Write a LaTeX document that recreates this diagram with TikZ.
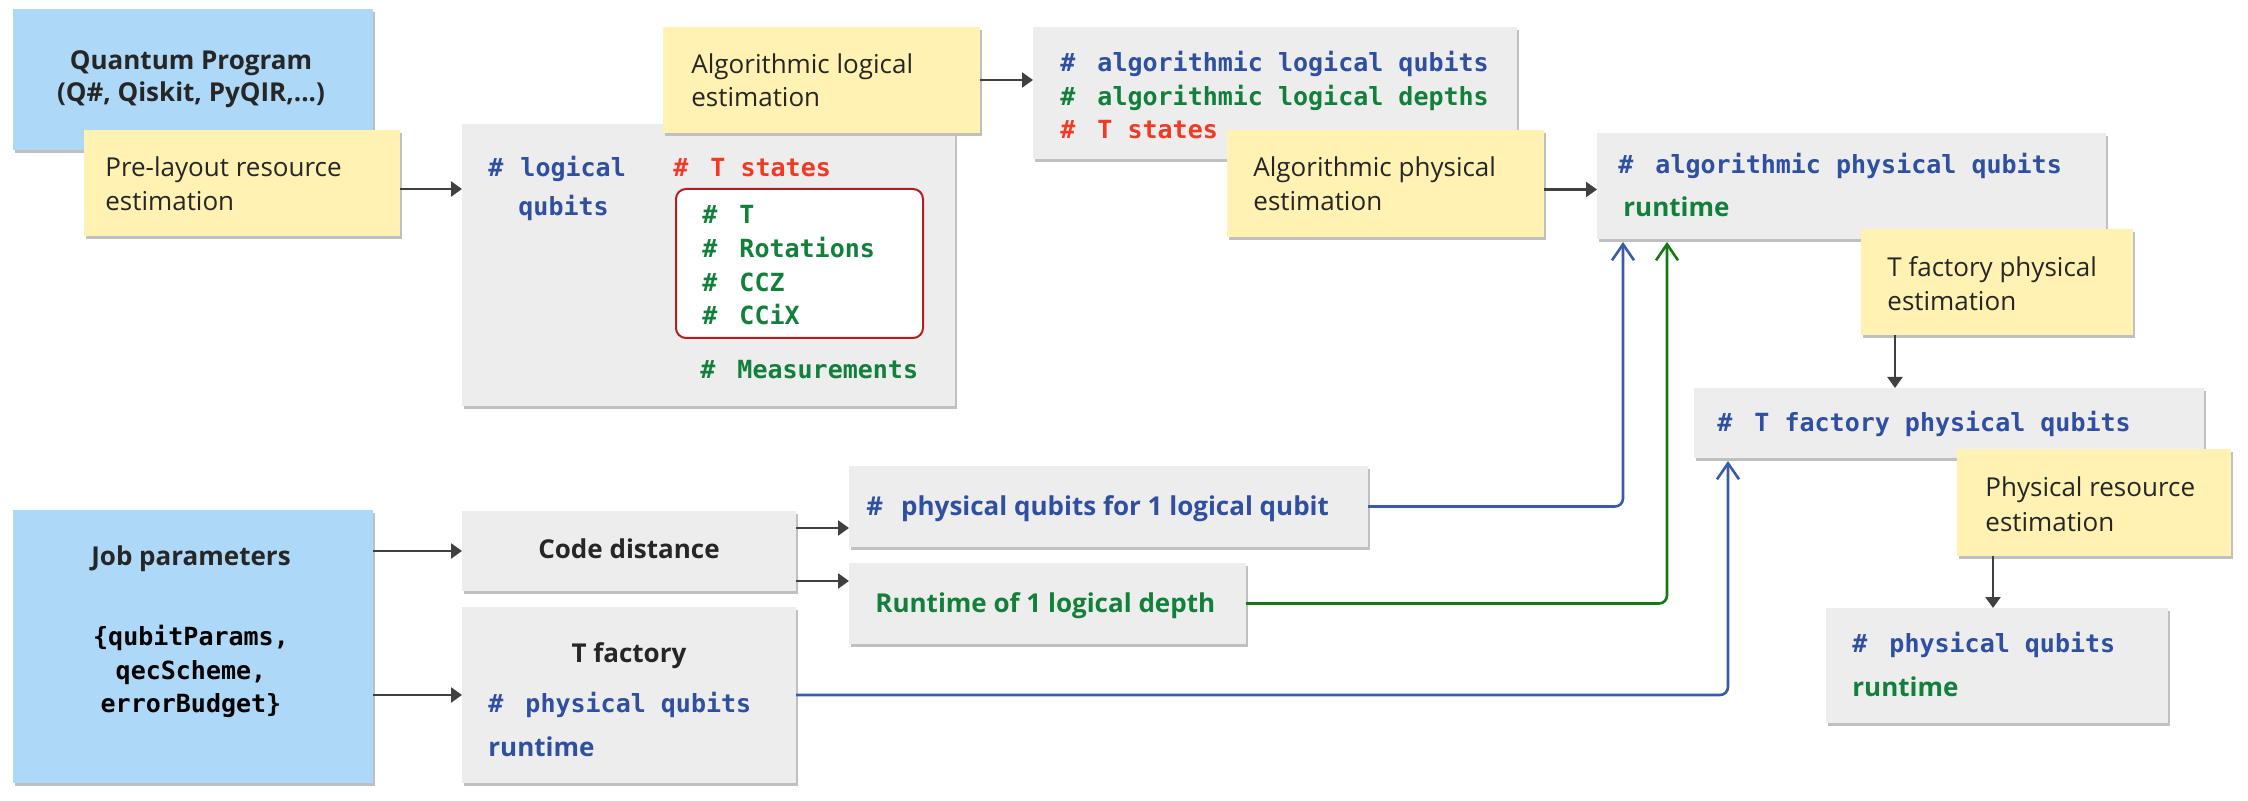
\documentclass[tikz,border=0pt]{standalone}
\usepackage{fontspec}
\setmainfont{Open Sans}
\newfontfamily\monof{DejaVu Sans Mono}
\usetikzlibrary{arrows.meta,shadows}
\definecolor{qblue}{RGB}{173,216,247}
\definecolor{qyellow}{RGB}{255,242,178}
\definecolor{qgray}{RGB}{237,237,237}
\definecolor{shadowc}{RGB}{192,192,192}
\definecolor{dtext}{RGB}{38,38,38}
\definecolor{tblue}{RGB}{47,80,160}
\definecolor{tgreen}{RGB}{18,128,58}
\definecolor{tred}{RGB}{240,58,38}
\definecolor{redbox}{RGB}{178,30,30}
\definecolor{lblue}{RGB}{60,90,170}
\definecolor{lgreen}{RGB}{20,120,20}
\definecolor{darrc}{RGB}{64,64,64}
\newcommand{\hsh}{\#\hspace{11pt}}
\newcommand{\mkbox}[6]{\node[#1, minimum width={(#5-#3)*0.5pt}, minimum height={(#6-#4)*0.5pt}] (#2) at (#3,#4) {};}
\tikzset{
  boxbase/.style={inner sep=0pt, outer sep=0pt, anchor=north west,
    drop shadow={shadow xshift=1.2pt, shadow yshift=-1.5pt, fill=shadowc, opacity=1}},
  bluebox/.style={boxbase, fill=qblue},
  graybox/.style={boxbase, fill=qgray},
  ybox/.style={boxbase, fill=qyellow},
  redlist/.style={inner sep=0pt, outer sep=0pt, anchor=north west, fill=white, draw=redbox, line width=1pt, rounded corners=5pt},
  yt/.style={anchor=base west, inner sep=0pt, text=dtext, font=\fontsize{13}{16}\selectfont},
  bt/.style={anchor=base, inner sep=0pt, text=dtext, font=\bfseries\fontsize{13}{16}\selectfont},
  st/.style={anchor=base west, inner sep=0pt, font=\bfseries\fontsize{13}{16}\selectfont},
  mt/.style={anchor=base west, inner sep=0pt, font=\monof\bfseries\fontsize{12.5}{16}\selectfont},
  mc/.style={mt, anchor=base, text=black},
  darr/.style={draw=darrc, line width=1.2pt, -{Triangle[length=5.5pt,width=7.5pt]}},
  bcon/.style={draw=lblue, line width=1.3pt, rounded corners=4pt, -{Straight Barb[length=8pt,width=11pt]}},
  gcon/.style={draw=lgreen, line width=1.3pt, rounded corners=4pt, -{Straight Barb[length=8pt,width=11pt]}}
}
\begin{document}
\begin{tikzpicture}[x=0.5pt,y=-0.5pt]
\useasboundingbox (0,0) rectangle (2248,801);
% blue and gray boxes
\mkbox{bluebox}{qprog}{13}{9}{373}{150}
\mkbox{bluebox}{job}{13}{510}{373}{783}
\mkbox{graybox}{logic}{462}{124}{955}{406}
\mkbox{graybox}{alq}{1033}{27}{1517}{159}
\mkbox{graybox}{apq}{1597}{133}{2106}{239}
\mkbox{graybox}{tfpq}{1694}{388}{2204}{458}
\mkbox{graybox}{pq}{1826}{608}{2168}{723}
\mkbox{graybox}{cd}{462}{511}{796}{591}
\mkbox{graybox}{tf}{462}{607}{796}{783}
\mkbox{graybox}{pqone}{849}{466}{1368}{547}
\mkbox{graybox}{rtone}{849}{563}{1246}{644}
\mkbox{redlist}{tlist}{676}{189}{923}{338}
% yellow boxes
\mkbox{ybox}{prel}{84}{130}{400}{236}
\mkbox{ybox}{alglog}{663}{27}{980}{133}
\mkbox{ybox}{algphys}{1227}{130}{1544}{237}
\mkbox{ybox}{tfpe}{1861}{229}{2133}{335}
\mkbox{ybox}{pre}{1957}{449}{2231}{556}
% texts
\node[bt] (qprogA) at (191,70) {Quantum Program};
\node[bt] (qprogB) at (191,102) {(Q\#, Qiskit, PyQIR,...)};
\node[yt] (prelA) at (105,177) {Pre-layout resource};
\node[yt] (prelB) at (105,211) {estimation};
\node[yt] (alglogA) at (691,74) {Algorithmic logical};
\node[yt] (alglogB) at (691,107) {estimation};
\node[yt] (algphysA) at (1253,177) {Algorithmic physical};
\node[yt] (algphysB) at (1253,211) {estimation};
\node[yt] (tfpeA) at (1887,277) {T factory physical};
\node[yt] (tfpeB) at (1887,311) {estimation};
\node[yt] (preA) at (1985,497) {Physical resource};
\node[yt] (preB) at (1985,531) {estimation};
\node[mt, text=tblue] (logA) at (488,177) {\#\hspace{8.5pt}logical};
\node[mt, text=tblue] (logB) at (518,216) {qubits};
\node[mt, text=tred] (tsA) at (673,177) {\hsh T states};
\node[mt, text=tgreen] (tsT) at (702,224) {\hsh T};
\node[mt, text=tgreen] (tsR) at (702,258) {\hsh Rotations};
\node[mt, text=tgreen] (tsC) at (702,292) {\hsh CCZ};
\node[mt, text=tgreen] (tsX) at (702,325) {\hsh CCiX};
\node[mt, text=tgreen] (tsM) at (700,379) {\hsh Measurements};
\node[mt, text=tblue] (alqA) at (1060,72) {\hsh algorithmic logical qubits};
\node[mt, text=tgreen] (alqB) at (1060,106) {\hsh algorithmic logical depths};
\node[mt, text=tred] (alqC) at (1060,139) {\hsh T states};
\node[mt, text=tblue] (apqA) at (1618,174) {\hsh algorithmic physical qubits};
\node[st, text=tgreen] (apqB) at (1623,217) {runtime};
\node[mt, text=tblue] (tfpqA) at (1717,432) {\hsh T factory physical qubits};
\node[mt, text=tblue] (pqA) at (1852,652) {\hsh physical qubits};
\node[st, text=tgreen] (pqB) at (1852,696) {runtime};
\node[bt] (jobA) at (191,566) {Job parameters};
\node[mc] (jobB) at (191,646) {\{qubitParams,};
\node[mc] (jobC) at (191,679) {qecScheme,};
\node[mc] (jobD) at (191,712) {errorBudget\}};
\node[bt] (cdA) at (629,559) {Code distance};
\node[bt] (tfA) at (629,662) {T factory};
\node[mt, text=tblue] (tfB) at (488,712) {\hsh physical qubits};
\node[st, text=tblue] (tfC) at (488,756) {runtime};
\node[st, text=tblue] (pqoneA) at (866,516) {\#\hspace{9pt}physical qubits for 1 logical qubit};
\node[st, text=tgreen] (rtoneA) at (875,612) {Runtime of 1 logical depth};
% dark arrows
\draw[darr] ([yshift=-3pt]prel.east) -- ([yshift=-3pt]prel.east -| logic.west);
\draw[darr] (alglog.east) -- (alglog.east -| alq.west);
\draw[darr] ([yshift=-3pt]algphys.east) -- ([yshift=-3pt]algphys.east -| apq.west);
\draw[darr] ([xshift=17pt]tfpe.south west) -- ([xshift=17pt]tfpe.south west |- tfpq.north);
\draw[darr] ([xshift=18pt]pre.south west) -- ([xshift=18pt]pre.south west |- pq.north);
\draw[darr] (cd.west -| job.east) -- (cd.west);
\draw[darr] (tf.west -| job.east) -- (tf.west);
\draw[darr] ([yshift=11.5pt]cd.east) -- ([yshift=11.5pt]cd.east -| pqone.west);
\draw[darr] ([yshift=-15pt]cd.east) -- ([yshift=-15pt]cd.east -| rtone.west);
% coloured connectors
\draw[bcon] (pqone.east) -| ([xshift=13pt,yshift=-1.5pt]apq.south west);
\draw[gcon] (rtone.east) -| ([xshift=35pt,yshift=-1.5pt]apq.south west);
\draw[bcon] (tf.east) -| ([xshift=17pt,yshift=-1.5pt]tfpq.south west);
\end{tikzpicture}
\end{document}
